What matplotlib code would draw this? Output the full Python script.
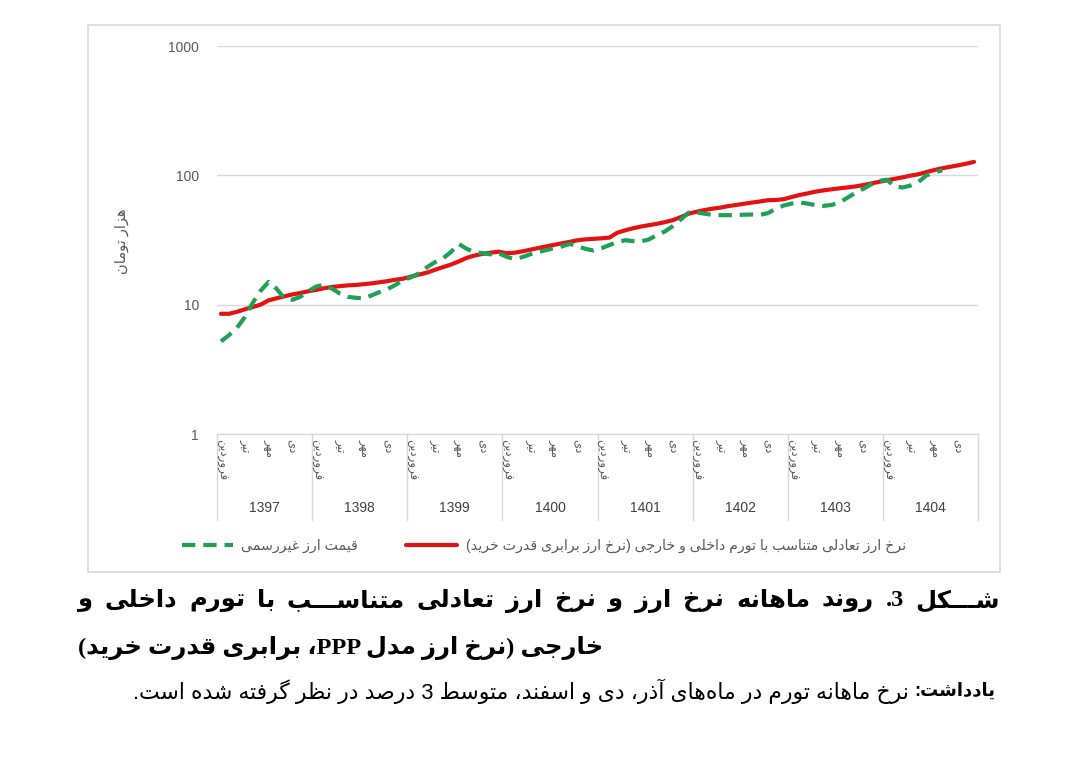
import re
import matplotlib
matplotlib.use('Agg')
import matplotlib.pyplot as plt
from matplotlib.patches import Rectangle

# داده‌ها (هزار تومان) - ماهانه از فروردین 1397
YEARS = ['1397', '1398', '1399', '1400', '1401', '1402', '1403', '1404']
MONTH_NAMES = ['فروردین', 'تیر', 'مهر', 'دی']
MONTH_NUMS = [1, 4, 7, 10]
Y_TICKS = [1, 10, 100, 1000]

PPP_RATE = [
    8.5, 8.5, 8.8, 9.2, 9.6, 10.0, 10.8, 11.2, 11.6, 12.0, 12.3, 12.7,
    13.0, 13.4, 13.7, 13.9, 14.1, 14.2, 14.4, 14.6, 14.9, 15.2, 15.6, 15.9,
    16.5, 17.1, 17.7, 18.6, 19.5, 20.4, 21.6, 23.0, 24.0, 24.7, 25.2, 25.7,
    25.0, 25.2, 25.8, 26.6, 27.4, 28.2, 29.0, 29.8, 30.6, 31.5, 32.0, 32.3,
    32.6, 33.0, 36.0, 37.6, 39.0, 40.2, 41.2, 42.2, 43.5, 45.0, 47.5, 50.5,
    52.3, 53.9, 55.2, 56.3, 57.8, 59.0, 60.3, 61.6, 62.8, 64.2, 64.5, 65.4,
    68.0, 70.5, 72.5, 74.8, 76.5, 78.0, 79.3, 80.6, 82.0, 84.0, 86.5, 89.0,
    91.5, 94.0, 96.5, 99.5, 102.0, 106.0, 110.0, 113.5, 116.5, 119.5, 123.0, 127.0,
]

MARKET_RATE = [
    5.2, 5.8, 6.6, 8.0, 10.3, 12.8, 15.0, 13.3, 11.2, 10.9, 11.5, 12.7,
    13.8, 14.3, 13.3, 12.2, 11.5, 11.3, 11.2, 11.8, 12.5, 13.2, 14.2, 15.5,
    16.3, 17.5, 19.5, 21.3, 22.8, 25.5, 29.5, 27.0, 25.5, 25.0, 24.5, 25.0,
    23.5, 22.5, 23.3, 24.5, 25.5, 26.4, 27.3, 28.2, 29.5, 28.3, 27.0, 26.2,
    27.3, 28.9, 30.5, 31.5, 31.0, 30.8, 32.0, 34.5, 36.8, 40.5, 45.5, 51.5,
    51.5, 50.5, 49.5, 49.2, 49.2, 49.3, 49.6, 49.8, 49.5, 51.0, 55.3, 58.5,
    60.5, 61.6, 60.5, 58.8, 58.0, 59.0, 61.5, 67.0, 73.0, 78.5, 85.0, 90.5,
    92.5, 82.0, 80.5, 83.5, 89.0, 100.0, 105.0, 109.5,
]

LABEL_PPP = 'نرخ ارز تعادلی متناسب با تورم داخلی و خارجی (نرخ ارز برابری قدرت خرید)'
LABEL_MARKET = 'قیمت ارز غیررسمی'
Y_LABEL = 'هزار تومان'
CAPTION_1 = 'شـــکل 3. روند ماهانه نرخ ارز و نرخ ارز تعادلی متناســـب با تورم داخلی و'
CAPTION_2 = 'خارجی (نرخ ارز مدل PPP، برابری قدرت خرید)'
NOTE_HEAD = 'یادداشت:'
NOTE_BODY = 'نرخ ماهانه تورم در ماه‌های آذر، دی و اسفند، متوسط 3 درصد در نظر گرفته شده است.'


# شکل‌دهی حروف فارسی و ترتیب راست به چپ (matplotlib هیچ‌کدام را انجام نمی‌دهد)
FORMS = {
    'آ': (0xFE81, 2), 'ا': (0xFE8D, 2), 'ب': (0xFE8F, 4), 'پ': (0xFB56, 4),
    'ت': (0xFE95, 4), 'ث': (0xFE99, 4), 'ج': (0xFE9D, 4), 'چ': (0xFB7A, 4),
    'ح': (0xFEA1, 4), 'خ': (0xFEA5, 4), 'د': (0xFEA9, 2), 'ذ': (0xFEAB, 2),
    'ر': (0xFEAD, 2), 'ز': (0xFEAF, 2), 'ژ': (0xFB8A, 2), 'س': (0xFEB1, 4),
    'ش': (0xFEB5, 4), 'ص': (0xFEB9, 4), 'ض': (0xFEBD, 4), 'ط': (0xFEC1, 4),
    'ظ': (0xFEC5, 4), 'ع': (0xFEC9, 4), 'غ': (0xFECD, 4), 'ف': (0xFED1, 4),
    'ق': (0xFED5, 4), 'ک': (0xFB8E, 4), 'گ': (0xFB92, 4), 'ل': (0xFEDD, 4),
    'م': (0xFEE1, 4), 'ن': (0xFEE5, 4), 'و': (0xFEED, 2), 'ه': (0xFEE9, 4),
    'ی': (0xFBFC, 4),
}
TATWEEL = 'ـ'
MIRROR = {'(': ')', ')': '('}


def joins_next(ch):
    return ch == TATWEEL or (ch in FORMS and FORMS[ch][1] == 4)


def shape(text):
    out = []
    for i, ch in enumerate(text):
        if ch not in FORMS:
            out.append(ch)
            continue
        start, n = FORMS[ch]
        prev = text[i - 1] if i > 0 else ''
        nxt = text[i + 1] if i + 1 < len(text) else ''
        jp = joins_next(prev)
        jn = n == 4 and (nxt == TATWEEL or nxt in FORMS)
        if jp and jn:
            out.append(chr(start + 3))
        elif jp:
            out.append(chr(start + 1))
        elif jn:
            out.append(chr(start + 2))
        else:
            out.append(chr(start))
    return ''.join(out).replace('\u200c', '')


def fa(text):
    # کل سطر راست به چپ، اعداد و حروف لاتین چپ به راست می‌مانند
    parts = re.findall(r'[A-Za-z0-9]+|[^A-Za-z0-9]', shape(text))
    parts = [MIRROR.get(p, p) for p in parts]
    return ''.join(reversed(parts))


GRID = '#D9D9D9'
TXT = '#595959'
SANS = ['Liberation Sans', 'DejaVu Sans']

fig = plt.figure(figsize=(10.8, 7.64), dpi=100)
fig.patch.set_facecolor('white')

fig.add_artist(Rectangle((88 / 1080, 1 - 572 / 764), 912 / 1080, 547 / 764,
                         transform=fig.transFigure, fill=False,
                         edgecolor=GRID, lw=1.2))

ax = fig.add_axes([217 / 1080, 1 - 434 / 764, 761 / 1080, 388 / 764])
months = list(range(len(PPP_RATE)))

ppp_line, = ax.plot(months, PPP_RATE, color='#E41212', lw=3.0,
                    solid_capstyle='round', zorder=3, label=fa(LABEL_PPP))
mkt_line, = ax.plot(months[:len(MARKET_RATE)], MARKET_RATE, color='#20A055',
                    lw=3.0, ls=(0, (3.2, 1.9)), zorder=4,
                    label=fa(LABEL_MARKET))

ax.set_yscale('log')
ax.set_ylim(Y_TICKS[0], Y_TICKS[-1])
ax.set_xlim(-0.5, len(PPP_RATE) - 0.5)
ax.set_yticks(Y_TICKS)
ax.set_yticklabels([str(t) for t in Y_TICKS])
ax.yaxis.set_minor_locator(matplotlib.ticker.NullLocator())
ax.tick_params(axis='y', length=0, pad=13, labelsize=10, labelcolor=TXT)
for lab in ax.get_yticklabels():
    lab.set_family(SANS)
ax.set_xticks([])
ax.grid(axis='y', color=GRID, lw=1)
for s in ['top', 'right', 'left']:
    ax.spines[s].set_visible(False)
ax.spines['bottom'].set_color(GRID)

# محور دسته‌بندی دو سطحی
xt = ax.get_xaxis_transform()
for k, year in enumerate(YEARS):
    for name, m in zip(MONTH_NAMES, MONTH_NUMS):
        ax.text(k * 12 + m - 1, -0.012, fa(name), transform=xt, rotation=-90,
                ha='center', va='top', fontsize=8.5, color=TXT, family=SANS)
    ax.text(k * 12 + 5.5, -0.19, year, transform=xt, ha='center',
            va='center', fontsize=10, color='#404040', family=SANS)
for b in range(len(YEARS) + 1):
    ax.axvline(b * 12 - 0.5, ymin=-0.222, ymax=0, color=GRID, lw=1,
               clip_on=False)

fig.text(122 / 1080, 1 - 241 / 764, fa(Y_LABEL), rotation=90, ha='center',
         va='center', fontsize=10.5, color=TXT, family=SANS)

fig.legend(handles=[mkt_line, ppp_line], loc='center',
           bbox_to_anchor=(544 / 1080, 1 - 546 / 764), ncol=2, frameon=False,
           handlelength=3.6, handletextpad=0.6, columnspacing=3.4,
           prop={'family': SANS, 'size': 10.2}, labelcolor=TXT)

# زیرنویس شکل
renderer = fig.canvas.get_renderer()


def width_of(t):
    return t.get_window_extent(renderer=renderer).width


def fit(t, width_px):
    t.set_fontsize(t.get_fontsize() * width_px / width_of(t))


def justify(text, x0, x1, y, **kw):
    # تراز دوطرفه: کلمات بین x0 و x1 پخش می‌شوند
    words = [fig.text(0, y, w, ha='left', va='center', **kw)
             for w in text.split(' ')]
    widths = [width_of(w) for w in words]
    gap = (x1 - x0 - sum(widths)) / (len(words) - 1)
    x = x0
    for w, wd in zip(words, widths):
        w.set_x(x / 1080)
        x += wd + gap


CAP_FONT = ['Liberation Serif', 'DejaVu Sans']
c2 = fig.text(78 / 1080, 1 - 648 / 764, fa(CAPTION_2), ha='left',
              va='center', fontsize=16, weight='bold', family=CAP_FONT)
fit(c2, 525)
justify(fa(CAPTION_1), 78, 1000, 1 - 601 / 764, fontsize=c2.get_fontsize(),
        weight='bold', family=CAP_FONT)

n1 = fig.text(995 / 1080, 1 - 691 / 764, fa(NOTE_HEAD), ha='right',
              va='center', fontsize=13, weight='bold', family=SANS)
x_start = n1.get_window_extent(renderer=renderer).x0 - 5
n2 = fig.text(x_start / 1080, 1 - 691 / 764, fa(NOTE_BODY), ha='right',
              va='center', fontsize=13, family=SANS)
fit(n2, x_start - 135)

fig.savefig('out.png', dpi=100, facecolor='white')
